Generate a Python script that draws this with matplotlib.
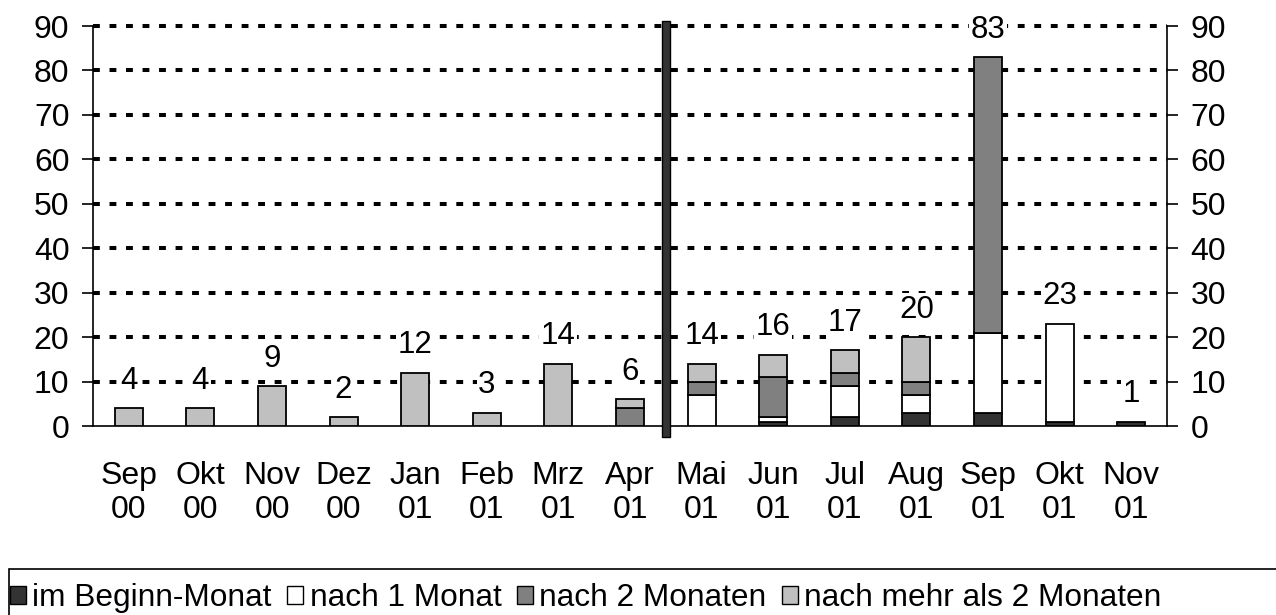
import matplotlib
matplotlib.use("Agg")
import matplotlib.pyplot as plt
from matplotlib.patches import Rectangle, Patch
import numpy as np

plt.rcParams['font.family'] = ['Liberation Sans', 'DejaVu Sans']

months = ['Sep\n00', 'Okt\n00', 'Nov\n00', 'Dez\n00', 'Jan\n01', 'Feb\n01', 'Mrz\n01', 'Apr\n01',
          'Mai\n01', 'Jun\n01', 'Jul\n01', 'Aug\n01', 'Sep\n01', 'Okt\n01', 'Nov\n01']
im_beginn = [0, 0, 0, 0, 0, 0, 0, 0, 0, 1, 2, 3, 3, 1, 1]
nach_1 = [0, 0, 0, 0, 0, 0, 0, 0, 7, 1, 7, 4, 18, 22, 0]
nach_2 = [0, 0, 0, 0, 0, 0, 0, 4, 3, 9, 3, 3, 62, 0, 0]
nach_mehr = [4, 4, 9, 2, 12, 3, 14, 2, 4, 5, 5, 10, 0, 0, 0]
series_names = ['im Beginn-Monat', 'nach 1 Monat', 'nach 2 Monaten', 'nach mehr als 2 Monaten']
yticks = [0, 10, 20, 30, 40, 50, 60, 70, 80, 90]

colors = ['#333333', '#ffffff', '#808080', '#c0c0c0']

W, H = 1276, 615
fig = plt.figure(figsize=(W / 100, H / 100), dpi=100)
ax = fig.add_axes([93 / W, (H - 426) / H, (1167 - 93) / W, 400 / H])

x = np.arange(len(months))
series = [im_beginn, nach_1, nach_2, nach_mehr]
bottom = np.zeros(len(months))
for vals, col in zip(series, colors):
    v = np.array(vals, dtype=float)
    idx = v > 0
    ax.bar(x[idx], v[idx], bottom=bottom[idx], width=0.39, color=col,
           edgecolor='black', linewidth=1.3, zorder=3)
    bottom += v

totals = bottom
for xi, t in zip(x, totals):
    ax.annotate(f'{int(t)}', (xi, t), xytext=(0, 14), textcoords='offset points',
                ha='center', va='baseline', fontsize=22.5, zorder=4,
                bbox=dict(boxstyle='square,pad=0.05', fc='white', ec='none'))

ax.set_xlim(-0.5, len(months) - 0.5)
ax.set_ylim(0, 90)
ax.set_yticks(yticks)
ax.set_xticks(x)
ax.set_xticklabels(months, fontsize=23, linespacing=1.18)
ax.tick_params(axis='x', length=0, pad=25)
ax.tick_params(axis='y', direction='out', length=8, width=1.2, labelsize=23, pad=9,
               left=True, right=True, labelleft=True, labelright=True)
for g in yticks[1:]:
    ax.axhline(g, color='black', linewidth=2.9, linestyle=(0, (1.7, 2.4)), zorder=1, clip_on=False)

ax.spines['top'].set_visible(False)
for s in ['left', 'right', 'bottom']:
    ax.spines[s].set_linewidth(1.2)

# separator between Apr 01 and Mai 01
ax.add_patch(Rectangle((7.5 - 0.06, -2.4), 0.12, 93.6, facecolor='#333333', edgecolor='black',
                       linewidth=1, zorder=5, clip_on=False))

# legend frame
fig.patches.append(Rectangle((9 / W, -0.1), 1.2, (H - 569) / H + 0.1, transform=fig.transFigure,
                             facecolor='none', edgecolor='black', linewidth=1.2))
handles = [Patch(facecolor=c, edgecolor='black', linewidth=1) for c in colors]
fig.legend(handles, series_names, loc='center left', bbox_to_anchor=(10 / W, 17 / H),
           ncol=4, frameon=False, fontsize=22.8, handlelength=0.5, handleheight=0.5,
           handletextpad=0.2, columnspacing=0.5, borderaxespad=0, borderpad=0)

fig.savefig('out.png', dpi=100)
